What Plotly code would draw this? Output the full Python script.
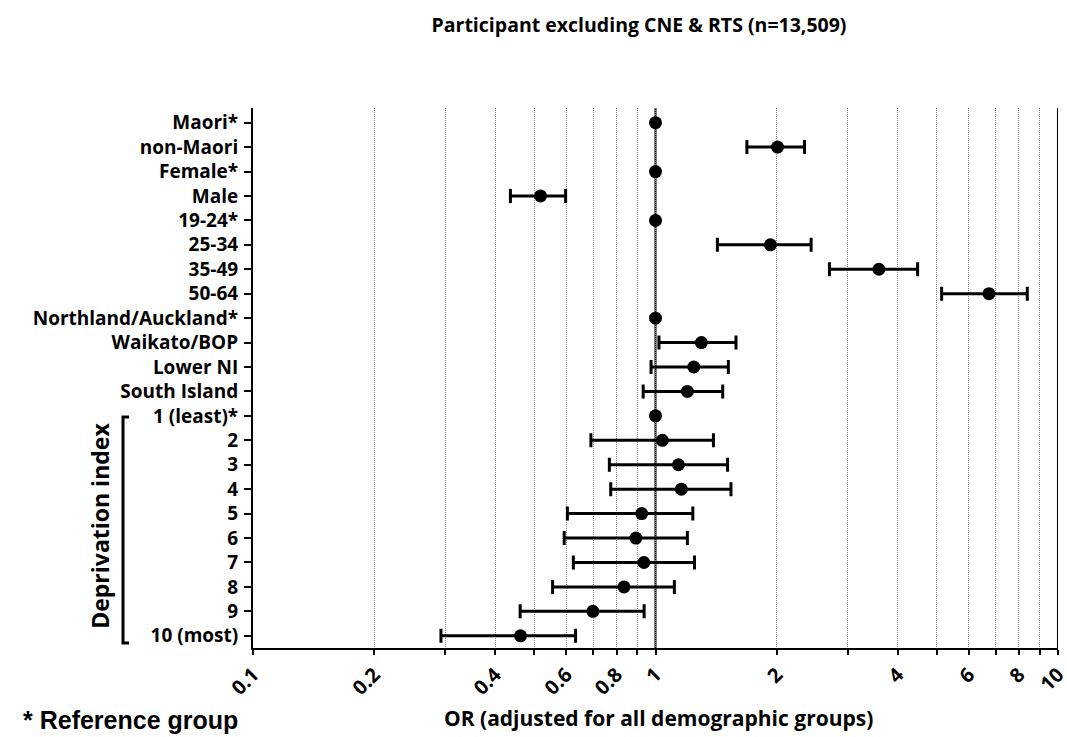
import plotly.graph_objects as go

labels = ["Maori*", "non-Maori", "Female*", "Male", "19-24*", "25-34", "35-49", "50-64",
          "Northland/Auckland*", "Waikato/BOP", "Lower NI", "South Island",
          "1 (least)*", "2", "3", "4", "5", "6", "7", "8", "9", "10 (most)"]
odds = [1, 2.01, 1, 0.518, 1, 1.93, 3.59, 6.74,
        1, 1.30, 1.245, 1.20,
        1, 1.04, 1.14, 1.159, 0.924, 0.894, 0.936, 0.835, 0.699, 0.462]
ci_low = [None, 1.687, None, 0.436, None, 1.425, 2.705, 5.14,
          None, 1.02, 0.975, 0.932,
          None, 0.691, 0.768, 0.774, 0.604, 0.593, 0.625, 0.555, 0.461, 0.293]
ci_high = [None, 2.345, None, 0.598, None, 2.436, 4.48, 8.39,
           None, 1.585, 1.517, 1.469,
           None, 1.393, 1.51, 1.54, 1.238, 1.20, 1.25, 1.114, 0.937, 0.633]

x_tickvals = [0.1, 0.2, 0.3, 0.4, 0.5, 0.6, 0.7, 0.8, 0.9, 1, 2, 3, 4, 5, 6, 7, 8, 9, 10]
x_ticktext = ["0.1", "0.2", "", "0.4", "", "0.6", "", "0.8", "", "1", "2", "", "4", "", "6", "", "8", "", "10"]

title_text = "Participant excluding CNE & RTS (n=13,509)"
xaxis_title = "OR (adjusted for all demographic groups)"
group_label = "Deprivation index"
footnote = "* Reference group"

FONT = "Open Sans"
L, R = 253, 9
PW = 1067 - L - R

rows = list(range(len(labels)))
ref_x = [o for o, lo in zip(odds, ci_low) if lo is None]
ref_y = [r for r, lo in zip(rows, ci_low) if lo is None]
est_idx = [i for i, lo in enumerate(ci_low) if lo is not None]
est_x = [odds[i] for i in est_idx]
est_y = [rows[i] for i in est_idx]
err_plus = [ci_high[i] - odds[i] for i in est_idx]
err_minus = [odds[i] - ci_low[i] for i in est_idx]

fig = go.Figure()
fig.add_trace(go.Scatter(
    x=est_x, y=est_y, mode="markers",
    marker=dict(color="black", size=13),
    error_x=dict(type="data", symmetric=False, array=err_plus, arrayminus=err_minus,
                 color="black", thickness=3, width=7),
    showlegend=False, cliponaxis=False))
fig.add_trace(go.Scatter(
    x=ref_x, y=ref_y, mode="markers",
    marker=dict(color="black", size=13),
    showlegend=False, cliponaxis=False))

fig.update_layout(
    width=1067, height=737,
    margin=dict(l=L, r=R, t=108, b=89),
    plot_bgcolor="white", paper_bgcolor="white",
    font=dict(family=FONT, color="black"),
    title=dict(text=title_text, x=639 / 1067, xanchor="center", y=1 - 25 / 737, yanchor="middle",
               xref="container", yref="container",
               font=dict(family=FONT, size=19.5, weight="bold", color="black")),
    xaxis=dict(type="log", range=[-1.0001, 1.0001], tickmode="array", tickvals=x_tickvals, ticktext=x_ticktext,
               tickangle=-45, ticks="outside", ticklen=5, tickwidth=2, tickcolor="black",
               showline=True, linewidth=2, linecolor="black",
               showgrid=True, gridcolor="#8a8a8a", gridwidth=1, griddash="1px,1px",
               zeroline=False, ticklabeloverflow="allow", automargin=False,
               tickfont=dict(family=FONT, size=20, weight="bold", color="black")),
    yaxis=dict(range=[21.5, -0.6], tickmode="array", tickvals=rows, ticktext=labels,
               ticks="outside", ticklen=7, tickwidth=2, tickcolor="black",
               showline=True, linewidth=2, linecolor="black", automargin=False,
               showgrid=False, zeroline=False, ticklabelstandoff=2,
               tickfont=dict(family=FONT, size=19, weight="bold", color="black")),
)

# reference line at OR=1 and right border at 10
fig.add_shape(type="line", xref="x", yref="paper", x0=1, x1=1, y0=0, y1=1,
              line=dict(color="black", width=2), layer="below")
fig.add_shape(type="line", xref="x", yref="paper", x0=10, x1=10, y0=0, y1=1,
              line=dict(color="black", width=2))

# deprivation bracket
bx0 = (123 - L) / PW
bx1 = (129 - L) / PW
fig.add_shape(type="path", xref="paper", yref="y",
              path=f"M {bx1},12.05 L {bx0},12.05 L {bx0},21.3 L {bx1},21.3",
              line=dict(color="black", width=3))
fig.add_annotation(text=group_label, xref="paper", yref="y", x=(100 - L) / PW, y=16.5,
                   textangle=-90, showarrow=False, xanchor="center", yanchor="middle",
                   font=dict(family=FONT, size=23, weight="bold", color="black"))

fig.add_annotation(text=xaxis_title, xref="paper", yref="paper", x=(658 - L) / PW, y=(648 - 718) / 540,
                   showarrow=False, xanchor="center", yanchor="middle",
                   font=dict(family=FONT, size=21, weight="bold", color="black"))
fig.add_annotation(text=footnote, xref="paper", yref="paper", x=(21 - L) / PW, y=(648 - 720) / 540,
                   showarrow=False, xanchor="left", yanchor="middle",
                   font=dict(family="Liberation Sans", size=25, weight="bold", color="black"))

fig.write_html("out.html")
